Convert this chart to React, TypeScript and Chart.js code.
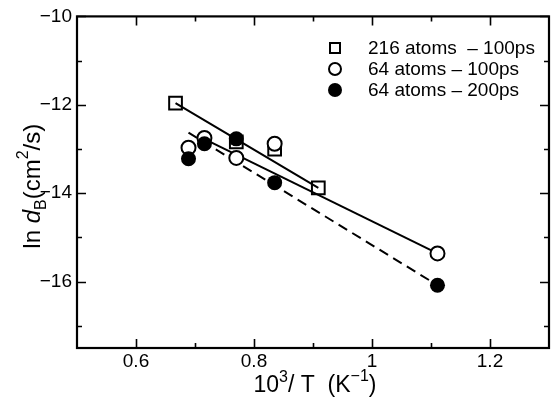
import React, { useEffect, useRef } from "react";
import { Chart, registerables } from "chart.js";
Chart.register(...registerables);

// ---- data ----
const squaresX = [0.667, 0.77, 0.835, 0.909];
const squaresY = [-11.96, -12.84, -13.0, -13.88];
const openX = [0.689, 0.716, 0.77, 0.835, 1.111];
const openY = [-12.97, -12.75, -13.2, -12.88, -15.36];
const filledX = [0.689, 0.716, 0.77, 0.835, 1.111];
const filledY = [-13.22, -12.88, -12.77, -13.76, -16.08];
const fit216X = [0.667, 0.909];
const fit216Y = [-11.96, -13.88];
const fit64aX = [0.705, 1.111];
const fit64aY = [-12.7, -15.36];
const fit64bX = [0.689, 1.111];
const fit64bY = [-12.63, -16.08];
const seriesLabels = ["216 atoms  \u2013 100ps", "64 atoms \u2013 100ps", "64 atoms \u2013 200ps"];
const xMajorTicks = [0.6, 0.8, 1, 1.2];
const xMinorTicks = [0.7, 0.9, 1.1];
const yMajorTicks = [-10, -12, -14, -16];
const yMinorTicks = [-11, -13, -15, -17];
const xRange = [0.5, 1.3];
const yRange = [-17.5, -10];

const FONT = "'Liberation Sans', Arial, Helvetica, sans-serif";

const pts = (xs: number[], ys: number[]) => xs.map((x, i) => ({ x, y: ys[i] }));

const framePlugin = {
  id: "frame",
  afterDatasetsDraw(chart: any) {
    const { ctx, chartArea } = chart;
    const { left, right, top, bottom } = chartArea;
    const x = chart.scales.x;
    const y = chart.scales.y;
    ctx.save();
    ctx.strokeStyle = "#000";
    ctx.lineWidth = 2.2;
    ctx.strokeRect(left, top, right - left, bottom - top);
    ctx.lineWidth = 1.6;
    const drawX = (v: number, len: number) => {
      const px = Math.round(x.getPixelForValue(v)) + 0.5;
      ctx.beginPath();
      ctx.moveTo(px, bottom);
      ctx.lineTo(px, bottom - len);
      ctx.moveTo(px, top);
      ctx.lineTo(px, top + len);
      ctx.stroke();
    };
    const drawY = (v: number, len: number) => {
      const py = Math.round(y.getPixelForValue(v)) + 0.5;
      ctx.beginPath();
      ctx.moveTo(left, py);
      ctx.lineTo(left + len, py);
      ctx.moveTo(right, py);
      ctx.lineTo(right - len, py);
      ctx.stroke();
    };
    xMajorTicks.forEach((v) => drawX(v, 9));
    xMinorTicks.forEach((v) => drawX(v, 5));
    yMajorTicks.forEach((v) => drawY(v, 9));
    yMinorTicks.forEach((v) => drawY(v, 5));
    ctx.restore();
  },
};

type Seg = { t: string; size: number; dy?: number; italic?: boolean };
const drawRich = (ctx: CanvasRenderingContext2D, segs: Seg[], cx: number, cy: number) => {
  let total = 0;
  segs.forEach((s) => {
    ctx.font = `${s.italic ? "italic " : ""}${s.size}px ${FONT}`;
    total += ctx.measureText(s.t).width;
  });
  let xPos = cx - total / 2;
  segs.forEach((s) => {
    ctx.font = `${s.italic ? "italic " : ""}${s.size}px ${FONT}`;
    ctx.fillText(s.t, xPos, cy + (s.dy || 0));
    xPos += ctx.measureText(s.t).width;
  });
};

const titlePlugin = {
  id: "titles",
  afterDraw(chart: any) {
    const { ctx, chartArea } = chart;
    const { left, right, top, bottom } = chartArea;
    ctx.save();
    ctx.fillStyle = "#000";
    ctx.textBaseline = "alphabetic";
    ctx.textAlign = "left";
    // x title
    drawRich(
      ctx,
      [
        { t: "10", size: 23 },
        { t: "3", size: 16, dy: -10 },
        { t: "/ T  (K", size: 23 },
        { t: "\u22121", size: 16, dy: -11 },
        { t: ")", size: 23 },
      ],
      (left + right) / 2 + 2,
      392
    );
    // y title
    ctx.translate(40, (top + bottom) / 2 + 4);
    ctx.rotate(-Math.PI / 2);
    drawRich(
      ctx,
      [
        { t: "ln ", size: 24 },
        { t: "d", size: 24, italic: true },
        { t: "B", size: 16, dy: 6 },
        { t: "(cm", size: 24 },
        { t: "2", size: 16, dy: -12 },
        { t: "/s)", size: 24 },
      ],
      0,
      0
    );
    ctx.restore();
  },
};

const legendPlugin = {
  id: "customLegend",
  afterDraw(chart: any) {
    const { ctx } = chart;
    ctx.save();
    const mx = 335;
    const tx = 368;
    const rows = [48, 69, 90];
    ctx.strokeStyle = "#000";
    ctx.fillStyle = "#000";
    ctx.lineWidth = 2;
    // square
    ctx.fillStyle = "#fff";
    ctx.fillRect(mx - 5, rows[0] - 5, 10, 10);
    ctx.strokeRect(mx - 5, rows[0] - 5, 10, 10);
    // open circle
    ctx.beginPath();
    ctx.arc(mx, rows[1], 6, 0, Math.PI * 2);
    ctx.fill();
    ctx.stroke();
    // filled circle
    ctx.fillStyle = "#000";
    ctx.beginPath();
    ctx.arc(mx, rows[2], 7, 0, Math.PI * 2);
    ctx.fill();
    ctx.font = `19px ${FONT}`;
    ctx.textBaseline = "middle";
    ctx.textAlign = "left";
    seriesLabels.forEach((l, i) => ctx.fillText(l, tx, rows[i] + 1));
    ctx.restore();
  },
};

export default function App() {
  const ref = useRef<HTMLCanvasElement | null>(null);
  useEffect(() => {
    if (!ref.current) return;
    const fmt = (v: number) => String(v).replace("-", "\u2212");
    const chart = new Chart(ref.current, {
      type: "scatter",
      data: {
        datasets: [
          {
            label: seriesLabels[2],
            data: pts(filledX, filledY),
            pointStyle: "circle",
            pointRadius: 7.5,
            backgroundColor: "#000",
            borderColor: "#000",
            borderWidth: 0,
            order: 0,
          },
          {
            label: seriesLabels[1],
            data: pts(openX, openY),
            pointStyle: "circle",
            pointRadius: 7,
            backgroundColor: "#fff",
            borderColor: "#000",
            borderWidth: 2,
            order: 1,
          },
          {
            type: "line",
            label: "fit 216",
            data: pts(fit216X, fit216Y),
            borderColor: "#000",
            borderWidth: 2,
            pointRadius: 0,
            showLine: true,
            fill: false,
            order: 2,
          } as any,
          {
            type: "line",
            label: "fit 64 100ps",
            data: pts(fit64aX, fit64aY),
            borderColor: "#000",
            borderWidth: 2,
            pointRadius: 0,
            showLine: true,
            fill: false,
            order: 2,
          } as any,
          {
            type: "line",
            label: "fit 64 200ps",
            data: pts(fit64bX, fit64bY),
            borderColor: "#000",
            borderWidth: 2,
            borderDash: [10, 6],
            pointRadius: 0,
            showLine: true,
            fill: false,
            order: 2,
          } as any,
          {
            label: seriesLabels[0],
            data: pts(squaresX, squaresY),
            pointStyle: "rect",
            pointRadius: 9,
            backgroundColor: "#fff",
            borderColor: "#000",
            borderWidth: 2,
            order: 3,
          },
        ],
      },
      options: {
        responsive: false,
        animation: false,
        devicePixelRatio: 1,
        layout: { padding: { top: 15, right: 8, left: 0, bottom: 0 } },
        plugins: { legend: { display: false }, tooltip: { enabled: false }, title: { display: false } },
        scales: {
          x: {
            type: "linear",
            min: xRange[0],
            max: xRange[1],
            grid: { display: false, drawTicks: false },
            border: { display: false },
            afterBuildTicks: (s: any) => {
              s.ticks = xMajorTicks.map((v) => ({ value: v }));
            },
            afterFit: (s: any) => {
              s.height = 65;
            },
            ticks: {
              color: "#000",
              font: { family: FONT, size: 19 },
              padding: 2,
              maxRotation: 0,
              autoSkip: false,
              callback: (v: any) => fmt(Number(v)),
            },
          },
          y: {
            type: "linear",
            min: yRange[0],
            max: yRange[1],
            grid: { display: false, drawTicks: false },
            border: { display: false },
            afterBuildTicks: (s: any) => {
              s.ticks = yMajorTicks.map((v) => ({ value: v }));
            },
            afterFit: (s: any) => {
              s.width = 77;
            },
            ticks: {
              color: "#000",
              font: { family: FONT, size: 19 },
              padding: 5,
              autoSkip: false,
              callback: (v: any) => fmt(Number(v)),
            },
          },
        },
      },
      plugins: [framePlugin, titlePlugin, legendPlugin],
    } as any);
    return () => chart.destroy();
  }, []);
  return (
    <div style={{ position: "fixed", left: 0, top: 0, width: 551, height: 413, overflow: "hidden", background: "#fff" }}>
      <canvas ref={ref} width={560} height={413} style={{ width: 560, height: 413, display: "block" }} />
    </div>
  );
}
